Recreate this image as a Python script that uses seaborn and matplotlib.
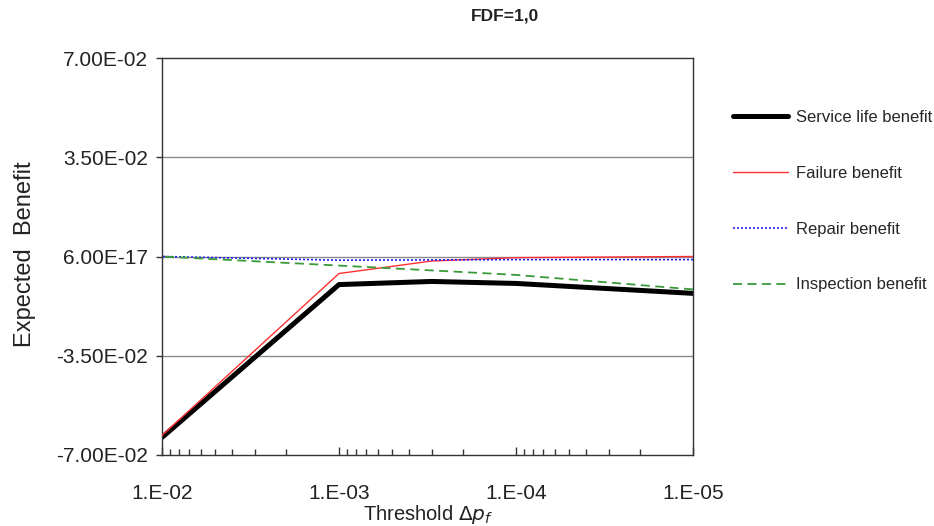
import numpy as np
import pandas as pd
import matplotlib
matplotlib.use("Agg")
import matplotlib.pyplot as plt
import seaborn as sns
from matplotlib.ticker import FixedLocator, FixedFormatter, LogLocator, NullFormatter
from matplotlib.lines import Line2D

thresholds = [1e-2, 1e-3, 3e-4, 1e-4, 1e-5]
service_life = [-0.0638, -0.0099, -0.0088, -0.0095, -0.0130]
failure = [-0.0631, -0.0060, -0.0016, -0.0004, 0.0]
repair = [0.0, -0.0013, -0.0012, -0.0011, -0.0011]
inspection = [0.0, -0.0032, -0.0049, -0.0065, -0.0116]

series_names = ["Service life benefit", "Failure benefit", "Repair benefit", "Inspection benefit"]
ytick_vals = [-0.07, -0.035, 0.0, 0.035, 0.07]
ytick_labels = ["-7.00E-02", "-3.50E-02", "6.00E-17", "3.50E-02", "7.00E-02"]
xtick_vals = [1e-2, 1e-3, 1e-4, 1e-5]
xtick_labels = ["1.E-02", "1.E-03", "1.E-04", "1.E-05"]

df = pd.DataFrame({
    "threshold": thresholds * 4,
    "value": service_life + failure + repair + inspection,
    "series": sum([[n] * len(thresholds) for n in series_names], []),
})

sns.set_style("white")
plt.rcParams["font.family"] = ["Liberation Sans", "DejaVu Sans"]

fig = plt.figure(figsize=(9.34, 5.26), dpi=100)
ax = fig.add_axes([162 / 934, 1 - 455 / 526, (693 - 162) / 934, (455 - 58) / 526])

styles = {
    "Service life benefit": dict(color="black", lw=3.6, ls="-"),
    "Failure benefit": dict(color="#ff3030", lw=1.0, ls="-"),
    "Repair benefit": dict(color="#2020ee", lw=1.2, ls=(0, (1.2, 1.2))),
    "Inspection benefit": dict(color="#3a9a3a", lw=1.3, ls=(0, (5, 3))),
}
for name in series_names:
    sub = df[df["series"] == name]
    st = styles[name]
    sns.lineplot(data=sub, x="threshold", y="value", ax=ax, color=st["color"],
                 linewidth=st["lw"], linestyle=st["ls"], label=name, legend=False,
                 zorder=3 if name != "Service life benefit" else 2)

ax.set_xscale("log")
ax.set_xlim(1e-2, 1e-5)
ax.set_ylim(-0.07, 0.07)

ax.yaxis.set_major_locator(FixedLocator(ytick_vals))
ax.yaxis.set_major_formatter(FixedFormatter(ytick_labels))
ax.xaxis.set_major_locator(FixedLocator(xtick_vals))
ax.xaxis.set_major_formatter(FixedFormatter(xtick_labels))
ax.xaxis.set_minor_locator(LogLocator(base=10, subs=np.arange(2, 10)))
ax.xaxis.set_minor_formatter(NullFormatter())

ax.grid(False)
for yv in ytick_vals[1:-1]:
    ax.axhline(yv, color="#8a8a8a", lw=1.0, zorder=1)

for s in ax.spines.values():
    s.set_visible(True)
    s.set_color("#333333")
    s.set_linewidth(1.0)

ax.tick_params(axis="x", which="major", direction="in", length=6, width=1, labelsize=15, pad=21, colors="#333333", labelcolor="#222222")
ax.tick_params(axis="x", which="minor", direction="in", length=4, width=1, colors="#333333")
ax.tick_params(axis="y", which="major", direction="out", length=4, width=1, labelsize=15, pad=6, colors="#333333", labelcolor="#222222")
ax.tick_params(bottom=True, left=True, which="both")

ax.set_xlabel("")
ax.set_ylabel("")
fig.text(25 / 934, 1 - 254 / 526, "Expected  Benefit", rotation=90, ha="center", va="center", fontsize=17, color="#222222")
fig.text(428 / 934, 1 - 514 / 526, r"Threshold $\Delta p_f$", ha="center", va="center", fontsize=14.5, color="#222222")
fig.text(505 / 934, 1 - 16 / 526, "FDF=1,0", ha="center", va="center", fontsize=12.5, fontweight="bold", color="#222222")

leg_handles = [Line2D([0], [0], color=styles[n]["color"], lw=styles[n]["lw"], ls=styles[n]["ls"]) for n in series_names]
leg = fig.legend(leg_handles, series_names, loc="upper left", bbox_to_anchor=(718 / 934, 1 - 95 / 526),
                 frameon=False, fontsize=12, handlelength=3.3, labelspacing=2.45, handletextpad=0.45)

fig.savefig("out.png", dpi=100)
